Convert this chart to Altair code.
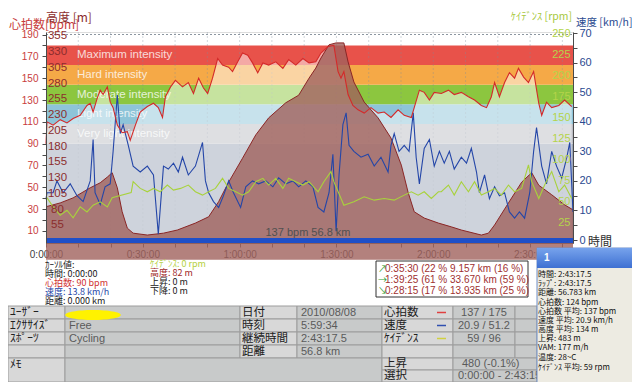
import altair as alt
import pandas as pd

# ---------------- data ----------------
# time in minutes from the start of the ride
hr_t = [0, 0.3, 2.2, 4.4, 6.5, 8.4, 10.6, 12.7, 13.7, 14.6,
        15.9, 16.8, 17.7, 19.0, 19.9, 20.8, 22.1, 23.6, 25.2, 26.1,
        27.7, 29.2, 31.4, 33.3, 34.8, 36.1, 37.0, 38.6, 40.1, 42.3,
        44.1, 45.7, 47.3, 48.8, 50.1, 51.6, 53.2, 54.7, 56.6, 57.8,
        59.4, 60.9, 62.5, 64.0, 65.6, 67.2, 69.0, 71.2, 73.4, 75.2,
        77.4, 79.6, 81.5, 83.6, 85.2, 87.4, 89.2, 90.5, 91.4, 92.3,
        93.6, 95.1, 96.7, 98.6, 100.7, 102.9, 104.8, 106.9, 109.1, 111.0,
        113.2, 114.1, 115.7, 117.2, 118.8, 120.3, 122.5, 124.7, 126.5, 128.7,
        130.9, 132.8, 134.9, 136.5, 138.0, 139.0, 140.5, 142.1, 143.6, 145.2,
        146.4, 148.0, 149.5, 151.1, 152.7, 153.6, 155.1, 156.7, 158.9, 160.7,
        162.9]
hr_bpm = [90, 110, 107, 112, 109, 113, 116, 125, 127, 119,
          132, 139, 135, 142, 128, 123, 107, 100, 101, 93,
          107, 119, 124, 127, 123, 114, 133, 142, 148, 142,
          146, 136, 150, 141, 136, 150, 168, 162, 160, 156,
          165, 173, 171, 164, 155, 164, 162, 165, 159, 167,
          162, 168, 164, 165, 173, 179, 180, 156, 150, 156,
          135, 125, 121, 118, 123, 118, 119, 114, 121, 116,
          114, 123, 139, 137, 130, 137, 136, 139, 135, 137,
          133, 130, 125, 123, 133, 146, 133, 146, 155, 150,
          159, 151, 146, 156, 127, 116, 128, 123, 125, 130,
          124]

spd_t = [0, 0.3, 2.2, 3.4, 5.3, 7.5, 9.6, 11.5, 13.7, 14.6, 15.2,
         16.8, 18.3, 19.9, 20.8, 22.1, 23.0, 23.9, 25.5, 27.0, 29.2,
         31.4, 33.3, 34.8, 36.4, 37.9, 39.5, 41.0, 42.3, 44.1, 46.3,
         48.5, 49.4, 50.4, 51.9, 53.5, 55.0, 56.6, 58.1, 60.3, 61.9,
         64.0, 65.9, 68.1, 70.3, 72.1, 74.3, 76.5, 78.3, 80.5, 82.7,
         84.3, 86.1, 87.7, 88.9, 89.9, 90.8, 92.0, 93.0, 93.9, 95.4,
         97.6, 99.8, 101.7, 103.8, 106.0, 106.9, 107.9, 109.4, 111.0, 112.5,
         113.8, 114.7, 115.7, 117.2, 118.8, 120.3, 121.9, 123.4, 125.0, 126.5,
         128.7, 130.3, 131.8, 133.4, 134.3, 135.9, 137.4, 139.0, 140.5, 142.1,
         143.6, 145.2, 146.7, 148.3, 149.9, 151.1, 152.0, 153.6, 155.1, 156.7,
         158.2, 159.8, 161.4, 162.3, 163.3]
spd_kmh = [13.8, 16, 16, 20, 16, 19, 15, 13, 20, 34, 16,
           12, 18, 19, 30, 49, 36, 39, 32, 25, 23,
           25, 22, 2, 25, 24, 26, 23, 28, 22, 25,
           33, 20, 16, 13, 11, 15, 20, 16, 11, 18,
           20, 19, 20, 18, 21, 19, 20, 18, 20, 18,
           11, 9.5, 16, 29, 3, 22, 39, 43, 32, 30,
           28, 29, 25, 28, 23, 32, 36, 30, 32, 30,
           43, 28, 19, 31, 34, 25, 30, 26, 30, 24,
           28, 26, 31, 23, 16, 22, 14, 18, 15, 16,
           9.5, 7.4, 9.5, 7.4, 16, 30, 38, 25, 19, 30,
           25, 21, 28, 33, 9.5]

cad_t = [0.3, 2.2, 4.4, 6.5, 8.4, 10.6, 12.7, 14.6, 16.8,
         19.0, 20.5, 26.4, 27.0, 29.2, 31.4, 33.3,
         35.4, 37.6, 39.5, 41.7, 44.1, 46.3, 48.5, 50.4, 52.5, 54.7,
         56.6, 58.8, 60.9, 62.8, 65.0, 67.2, 69.0, 71.2, 73.4, 75.2,
         77.4, 79.6, 81.5, 84.3, 86.1, 88.3, 89.2, 92.3, 95.4, 98.6,
         101.7, 104.8, 107.9, 111.0, 113.2, 115.3, 117.2, 119.4, 121.6, 122.5,
         124.7, 126.5, 128.7, 130.9, 132.8, 134.9, 137.1, 139.0, 141.1, 143.3,
         145.2, 147.4, 149.5, 150.5, 152.7, 154.5, 156.7, 158.9, 160.7, 162.9]
cad_rpm = [54, 43, 33, 39, 30, 43, 37, 45, 49,
           43, 54, 60, 73, 65, 61, 65,
           61, 69, 63, 65, 69, 61, 57, 61, 65, 77,
           65, 61, 57, 61, 73, 77, 69, 77, 65, 77,
           73, 69, 73, 61, 73, 85, 73, 45, 49, 55,
           51, 53, 51, 57, 61, 57, 61, 53, 61, 61,
           69, 57, 73, 61, 73, 57, 61, 65, 57, 69,
           61, 65, 93, 73, 53, 69, 85, 61, 69, 53]

alt_t = [0, 4.4, 8.4, 13.7, 16.8, 19.0, 20.5, 22.1, 23.6, 25.2,
         27.0, 31.4, 36.4, 40.7, 46.3, 50.4, 53.5, 56.6, 60.9, 65.0,
         69.0, 74.3, 78.3, 81.5, 83.6, 85.2, 87.7, 89.9, 92.3, 93.6,
         95.4, 98.6, 102.9, 106.9, 110.1, 112.2, 114.1, 117.2, 121.6, 125.6,
         128.7, 134.9, 137.1, 139.0, 143.3, 147.4, 150.5, 152.7, 156.7, 160.7,
         163.3]
alt_m = [84, 90, 98, 114, 122, 131, 138, 114, 76, 50,
         42, 39, 42, 47, 58, 68, 92, 123, 161, 198,
         225, 249, 261, 288, 304, 320, 341, 344, 344, 314,
         282, 250, 225, 193, 150, 107, 76, 66, 58, 52,
         47, 39, 42, 55, 90, 123, 138, 118, 103, 87,
         79]

# heart-rate zones [bpm]
zone_lo = [-1, 90, 108, 126, 144, 162]
zone_hi = [90, 108, 126, 144, 162, 180]
zone_name = ["", "Very light intensity", "Light intensity", "Moderate intensity",
             "Hard intensity", "Maximum intensity"]

# tick lists
x_ticks = list(range(0, 170, 10))
hr_ticks = list(range(10, 191, 10))
alt_ticks = list(range(55, 356, 25))
spd_ticks = list(range(0, 71, 5))
cad_ticks = list(range(25, 251, 25))

# texts
cursor_left = ["ｶｰｿﾙ値:", "時間: 0:00:00", "心拍数: 90 bpm", "速度: 13.8 km/h", "距離: 0.000 km"]
cursor_right = ["ｹｲﾃﾞﾝｽ: 0 rpm", "高度: 82 m", "上昇: 0 m", "下降: 0 m"]
split_arrows = ["↗", "→", "↘"]
split_lines = ["0:35:30  (22 %  9.157 km  (16 %)",
               "1:39:25  (61 %  33.670 km  (59 %)",
               "0:28:15  (17 %  13.935 km  (25 %)"]
popup_lines = ["時間: 2:43:17.5", "ﾗｯﾌﾟ: 2:43:17.5", "距離: 56.783 km", "心拍数: 124 bpm",
               "心拍数 平均: 137 bpm", "速度 平均: 20.9 km/h", "高度 平均: 134 m",
               "上昇: 483 m", "VAM: 177 m/h", "温度: 28~C", "ｹｲﾃﾞﾝｽ 平均: 59 rpm"]
table_rows = [
    ["ﾕｰｻﾞｰ", "", "日付", "2010/08/08", "心拍数", "137 / 175", ""],
    ["ｴｸｻｻｲｽﾞ", "Free", "時刻", "5:59:34", "速度", "20.9 / 51.2", ""],
    ["ｽﾎﾟｰﾂ", "Cycling", "継続時間", "2:43:17.5", "ｹｲﾃﾞﾝｽ", "59 / 96", ""],
    ["", "", "距離", "56.8 km", "", "", ""],
]
memo_label = "ﾒﾓ"
climb_label, climb_value = "上昇", "480 (-0.1%)"
sel_label, sel_value = "選択", "0:00:00 - 2:43:15"
summary_text = "137 bpm 56.8 km"

# ---------------- layout / style ----------------
W, H = 527, 211
OX, OY = 46, 32          # page position of the plot area's top-left corner
JP = "Noto Sans CJK JP"
LAT = "Liberation Sans"


def px(v):
    return v - OX


def py(v):
    return v - OY


zone_fill = ["#9DA7B9", "#BDBEC5", "#8EC4D8", "#8CC63F", "#F5A947", "#E8524A"]

xs = alt.Scale(domain=[0, 163.3], nice=False, zero=False)
s_hr = alt.Scale(domain=[-1, 192.3], nice=False, zero=False)
s_alt = alt.Scale(domain=[26.4, 361.3], nice=False, zero=False)
s_spd = alt.Scale(domain=[-1.0, 70.34], nice=False, zero=False)
s_cad = alt.Scale(domain=[0, 251.2], nice=False, zero=False)

hr_df = pd.DataFrame({"t": hr_t, "v": hr_bpm})
spd_df = pd.DataFrame({"t": spd_t, "v": spd_kmh})
cad_df = pd.DataFrame({"t": cad_t, "v": cad_rpm})
alt_df = pd.DataFrame({"t": alt_t, "v": alt_m})
zone_df = pd.DataFrame({"lo": zone_lo, "hi": zone_hi, "name": zone_name, "col": zone_fill})
zone_df["mid"] = (zone_df["lo"] + zone_df["hi"]) / 2

X_AXIS = alt.Axis(
    values=x_ticks, title=None, grid=False, tickSize=4, labelPadding=2,
    labelExpr="datum.value % 30 == 0 ? floor(datum.value / 60) + ':' + "
              "(datum.value % 60 == 0 ? '00' : datum.value % 60) + ':00' : ''",
    labelFont=LAT, labelFontSize=10, labelColor="#404040",
    domainColor="#5A5A5A", tickColor="#5A5A5A", labelOverlap=False, labelFlush=False,
    zindex=0)
HR_AXIS = alt.Axis(
    orient="left", offset=0, values=hr_ticks, title=None, grid=False, tickSize=4,
    labelPadding=4, labelExpr="(datum.value - 10) % 20 == 0 ? datum.label : ''",
    labelFont=LAT, labelFontSize=10, labelColor="#C83C3C",
    domainColor="#4A4A4A", tickColor="#4A4A4A", labelOverlap=False, labelFlush=False,
    zindex=1)
ALT_AXIS = alt.Axis(
    orient="left", offset=-11, values=alt_ticks, title=None, grid=False, ticks=False,
    tickSize=0, domain=False, labelPadding=0, labelAlign="center",
    labelFont=LAT, labelFontSize=11.5, labelColor="#8C2D2D",
    labelOverlap=False, labelFlush=False, zindex=1)
SPD_AXIS = alt.Axis(
    orient="right", offset=0, values=spd_ticks, title=None, grid=False, tickSize=4,
    labelPadding=2, labelExpr="datum.value % 10 == 0 ? datum.label : ''",
    labelFont=LAT, labelFontSize=11, labelColor="#2A4A90",
    domainColor="#4A4A4A", tickColor="#4A4A4A", labelOverlap=False, labelFlush=False,
    zindex=1)
CAD_AXIS = alt.Axis(
    orient="right", offset=-3, values=cad_ticks, title=None, grid=False, ticks=False,
    tickSize=0, domain=False, labelPadding=0, labelAlign="right",
    labelFont=LAT, labelFontSize=11, labelColor="#B4D44A",
    labelOverlap=False, labelFlush=False, zindex=1)

# ---------------- plot layers ----------------
bands = alt.Chart(zone_df).mark_rect().encode(
    x=alt.value(0), x2=alt.value(W),
    y=alt.Y("lo:Q", scale=s_hr, axis=None), y2="hi:Q",
    color=alt.Color("col:N", scale=None))

vgrid = alt.Chart(pd.DataFrame({"t": x_ticks[1:]})).mark_rule(
    color="#7F8C9A", opacity=0.35, strokeDash=[2, 2], strokeWidth=1).encode(
    x=alt.X("t:Q", scale=xs, axis=None), y=alt.value(0), y2=alt.value(H))

hgrid = alt.Chart(pd.DataFrame({"v": [190]})).mark_rule(
    color="#8C96A0", strokeDash=[2, 2], strokeWidth=1).encode(
    y=alt.Y("v:Q", scale=s_hr, axis=None), x=alt.value(0), x2=alt.value(W))

hr_fill = alt.Chart(hr_df).mark_area(color="white", opacity=0.5).encode(
    x=alt.X("t:Q", scale=xs, axis=None),
    y=alt.Y("v:Q", scale=s_hr, axis=None), y2=alt.value(H))

band_text = alt.Chart(zone_df[zone_df["name"] != ""]).mark_text(
    align="left", baseline="middle", font=LAT, fontSize=11.5, color="white",
    opacity=0.78).encode(
    x=alt.value(px(77)), y=alt.Y("mid:Q", scale=s_hr, axis=None), text="name:N")

alt_area = alt.Chart(alt_df).mark_area(color="#A0625C", opacity=0.8).encode(
    x=alt.X("t:Q", scale=xs, axis=None),
    y=alt.Y("v:Q", scale=s_alt, axis=ALT_AXIS), y2=alt.value(H))
alt_line = alt.Chart(alt_df).mark_line(color="#8A2626", strokeWidth=1).encode(
    x=alt.X("t:Q", scale=xs, axis=None), y=alt.Y("v:Q", scale=s_alt, axis=None))

spd_line = alt.Chart(spd_df).mark_line(color="#2446A8", strokeWidth=1.1).encode(
    x=alt.X("t:Q", scale=xs, axis=None), y=alt.Y("v:Q", scale=s_spd, axis=SPD_AXIS))
cad_line = alt.Chart(cad_df).mark_line(color="#A8D23C", strokeWidth=1.1).encode(
    x=alt.X("t:Q", scale=xs, axis=None), y=alt.Y("v:Q", scale=s_cad, axis=CAD_AXIS))
hr_line = alt.Chart(hr_df).mark_line(color="#D42A2A", strokeWidth=1.1).encode(
    x=alt.X("t:Q", scale=xs, axis=X_AXIS), y=alt.Y("v:Q", scale=s_hr, axis=HR_AXIS))

sel_bar = alt.Chart(pd.DataFrame({"a": [0]})).mark_rect(color="#1F4FC8").encode(
    x=alt.value(0), x2=alt.value(W), y=alt.value(H - 5), y2=alt.value(H))


# ---------------- helpers for the panels ----------------
def text_layer(rows, size, font, align="left", weight="normal"):
    df = pd.DataFrame(rows, columns=["x", "y", "s", "c"])
    return alt.Chart(df).mark_text(
        align=align, baseline="middle", fontSize=size, font=font, fontWeight=weight).encode(
        x=alt.X("x:Q", scale=None, axis=None), y=alt.Y("y:Q", scale=None, axis=None),
        text="s:N", color=alt.Color("c:N", scale=None))


def rect_layer(rows, **kw):
    df = pd.DataFrame(rows, columns=["x0", "x1", "y0", "y1", "f"])
    return alt.Chart(df).mark_rect(**kw).encode(
        x=alt.X("x0:Q", scale=None, axis=None), x2="x1:Q",
        y=alt.Y("y0:Q", scale=None, axis=None), y2="y1:Q",
        color=alt.Color("f:N", scale=None))


summary = text_layer([(px(308), py(233), summary_text, "#505050")], 11, LAT, align="center")

titles = alt.layer(
    text_layer([(px(9), py(25), "心拍数[bpm]", "#C83C3C")], 12, JP),
    text_layer([(px(576), py(22.5), "速度 [km/h]", "#2A4A90")], 10.5, JP),
    text_layer([(px(588), py(242), "時間", "#303030")], 12, JP),
    text_layer([(px(46), py(17.5), "高度 [m]", "#8C2D2D")], 12, JP),
    text_layer([(px(572), py(16.5), "ｹｲﾃﾞﾝｽ [rpm]", "#A8C840")], 10.5, JP, align="right"),
)

# cursor read-out
cur_colors_l = ["#202020", "#202020", "#D03030", "#2848A8", "#202020"]
cur_y_l = [264.5, 273.5, 282.5, 291.5, 300.5]
cur_colors_r = ["#B4D040", "#A02828", "#202020", "#202020"]
cur_y_r = [264, 273, 282, 291]
cursor = text_layer(
    [(px(45), py(y), s, c) for y, s, c in zip(cur_y_l, cursor_left, cur_colors_l)]
    + [(px(150), py(y), s, c) for y, s, c in zip(cur_y_r, cursor_right, cur_colors_r)],
    9, JP)

# split box
split_y = [269, 280, 291]
split_box = rect_layer([(px(376), px(528), py(261), py(297), "#FFFFFF")],
                       stroke="#303030", strokeWidth=1)
split_arrow_t = text_layer([(px(378), py(y), s, "#2E9E3A") for y, s in zip(split_y, split_arrows)],
                           9, JP)
split_text = text_layer([(px(385), py(y), s, "#A03030") for y, s in zip(split_y, split_lines)],
                        10, LAT)

# table
R = [306, 319, 332, 345, 358, 370, 382]
C = [8, 65, 240, 297, 382, 453, 515, 537]
LIGHT, DARK = "#D8D8D8", "#C8CACA"
cells, t_lab, t_val = [], [], []
for ri, row in enumerate(table_rows):
    for ci, s in enumerate(row):
        is_label = ci in (0, 2, 4)
        cells.append((px(C[ci]), px(C[ci + 1]), py(R[ri]), py(R[ri + 1]), LIGHT if is_label else DARK))
        yc = py((R[ri] + R[ri + 1]) / 2)
        if not s:
            continue
        if is_label:
            t_lab.append((px(C[ci] + 2), yc, s, "#202020"))
        elif ci == 5:
            t_val.append((px((C[5] + C[6]) / 2), yc, s, "#5A5A5A"))
        else:
            t_val.append((px(C[ci] + 4), yc, s, "#5A5A5A"))
cells += [
    (px(C[0]), px(C[1]), py(R[4]), py(R[6]), LIGHT),
    (px(C[1]), px(C[4]), py(R[4]), py(R[6]), DARK),
    (px(C[4]), px(C[5]), py(R[4]), py(R[5]), LIGHT),
    (px(C[5]), px(C[7]), py(R[4]), py(R[5]), DARK),
    (px(C[4]), px(C[5]), py(R[5]), py(R[6]), LIGHT),
    (px(C[5]), px(C[7]), py(R[5]), py(R[6]), DARK),
]
t_lab += [(px(C[0] + 2), py(365), memo_label, "#202020"),
          (px(C[4] + 2), py((R[4] + R[5]) / 2), climb_label, "#202020"),
          (px(C[4] + 2), py((R[5] + R[6]) / 2), sel_label, "#202020")]
t_val_left = [(px(C[5] + 9), py((R[4] + R[5]) / 2), climb_value, "#5A5A5A"),
              (px(C[5] + 5), py((R[5] + R[6]) / 2), sel_value, "#5A5A5A")]
centered = [r for r in t_val if abs(r[0] - px((C[5] + C[6]) / 2)) < 0.01]
left_vals = [r for r in t_val if r not in centered] + t_val_left

table_cells = rect_layer(cells, stroke="#9C9C9C", strokeWidth=1)
table_lab = text_layer(t_lab, 11.5, JP)
table_val = text_layer(left_vals, 11, LAT)
table_val_c = text_layer(centered, 11, LAT, align="center")
legend_df = pd.DataFrame({"x0": [px(437)] * 3, "x1": [px(446)] * 3,
                          "y": [py((R[0] + R[1]) / 2), py((R[1] + R[2]) / 2), py((R[2] + R[3]) / 2)],
                          "c": ["#E04040", "#3050B0", "#D0D040"]})
legend_dash = alt.Chart(legend_df).mark_rule(strokeWidth=1.5).encode(
    x=alt.X("x0:Q", scale=None, axis=None), x2="x1:Q",
    y=alt.Y("y:Q", scale=None, axis=None), color=alt.Color("c:N", scale=None))
ellipse = alt.Chart(pd.DataFrame({"x": [px(93)], "y": [py(315)]})).mark_point(
    shape="M -1 0 A 1 0.18 0 1 1 1 0 A 1 0.18 0 1 1 -1 0 Z",
    filled=True, color="#FFF200", opacity=1, size=3100).encode(
    x=alt.X("x:Q", scale=None, axis=None), y=alt.Y("y:Q", scale=None, axis=None))

# lap popup
popup_body = rect_layer([(px(537), px(640), py(248), py(392), "#EDEBE2")],
                        stroke="#6E8FC8", strokeWidth=1)
popup_title = alt.Chart(pd.DataFrame({"a": [0]})).mark_rect(
    color=alt.Gradient(gradient="linear", x1=0, x2=0, y1=0, y2=1,
                       stops=[alt.GradientStop(color="#77A3EC", offset=0),
                              alt.GradientStop(color="#3E70D2", offset=1)])).encode(
    x=alt.value(px(537)), x2=alt.value(px(640)), y=alt.value(py(248)), y2=alt.value(py(268)))
popup_head = text_layer([(px(544), py(258), "1", "#FFFFFF")], 10, LAT, weight="bold")
popup_y = [275, 284, 293, 303, 312, 321, 330, 339, 348, 358, 368]
popup_text = text_layer([(px(538), py(y), s, "#101010") for y, s in zip(popup_y, popup_lines)],
                        8, JP)

chart = alt.layer(
    bands, vgrid, hgrid, hr_fill, band_text, alt_area, alt_line,
    spd_line, cad_line, hr_line, sel_bar, summary, titles, cursor,
    split_box, split_arrow_t, split_text,
    table_cells, ellipse, table_lab, table_val, table_val_c, legend_dash,
    popup_body, popup_title, popup_head, popup_text,
).properties(
    width=W, height=H,
    padding={"left": 38, "top": 24, "right": 59, "bottom": 139},
    autosize=alt.AutoSizeParams(type="none"),
    background="white",
).resolve_scale(
    x="independent", y="independent"
).configure_view(
    fill="#D9E0E7", stroke="#4A5058", strokeWidth=1
).configure(font=LAT)

chart.save("out.html", embed_options={"renderer": "svg", "actions": False})
